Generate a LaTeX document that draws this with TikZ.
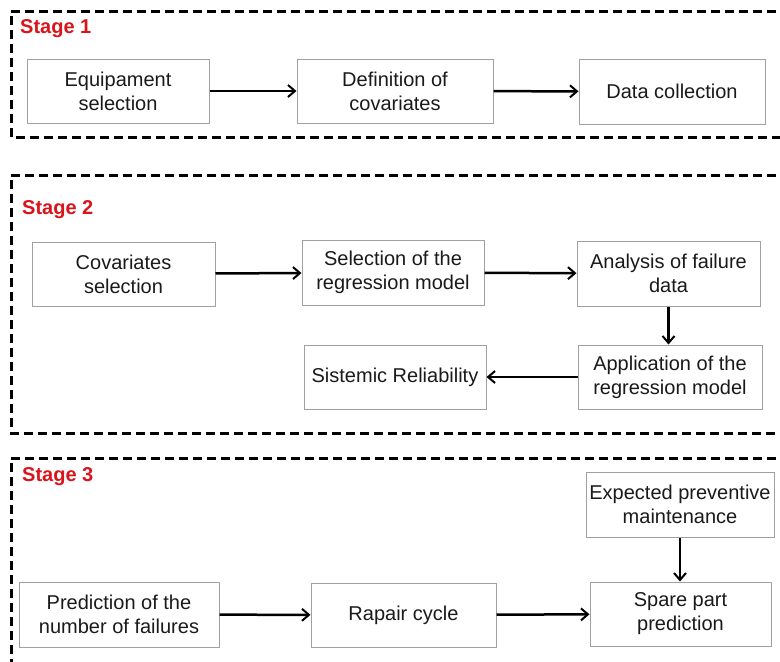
\documentclass[tikz,border=0pt]{standalone}
\usepackage{fontspec}
\setmainfont{Liberation Sans}
\usetikzlibrary{arrows.meta}
\definecolor{boxgray}{HTML}{A0A0A0}
\definecolor{txt}{HTML}{1A1A1A}
\definecolor{stagered}{HTML}{D9141A}
\begin{document}
\begin{tikzpicture}[x=1pt,y=-1pt,
  box/.style={draw=boxgray, line width=1pt, fill=white, align=center, text=txt,
    font=\fontsize{20pt}{24pt}\selectfont, inner sep=0pt},
  flow/.style={line width=2.5pt, -{Straight Barb[length=7pt,width=12pt,line width=2pt]}},
  frame/.style={line width=3pt, dash pattern=on 9pt off 5pt},
  stagelbl/.style={text=stagered, font=\fontsize{20pt}{24pt}\selectfont\bfseries, anchor=west, inner sep=0pt}]
\useasboundingbox (0,0) rectangle (780,662);
\fill[white] (0,0) rectangle (780,662);
% frames
\draw[frame] (790,11) -- (11,11) -- (11,137) -- (790,137);
\draw[frame] (790,175) -- (11,175) -- (11,433) -- (790,433);
\draw[frame] (790,458) -- (11,458) -- (11,680);
% stage labels
\node[stagelbl] (s1) at (20,29) {Stage 1};
\node[stagelbl] (s2) at (22,210) {Stage 2};
\node[stagelbl] (s3) at (22,477) {Stage 3};
% stage 1
\node[box, minimum width=182pt, minimum height=64pt] (equip) at (118,91) {Equipament\\selection};
\node[box, minimum width=196pt, minimum height=64pt] (def) at (395,91) {Definition of\\covariates};
\node[box, minimum width=186pt, minimum height=65pt] (data) at (672,91.5) {Data collection};
\draw[flow] (equip) -- (def);
\draw[flow] (def) -- (data);
% stage 2
\node[box, minimum width=183pt, minimum height=64pt] (cov) at (123.5,274) {Covariates\\selection};
\node[box, minimum width=182pt, minimum height=65pt] (sel) at (393,272.5) {Selection of the\\regression model};
\node[box, minimum width=183pt, minimum height=65pt] (ana) at (668.5,273.5) {Analysis of failure\\data};
\node[box, minimum width=184pt, minimum height=64pt] (app) at (670,377) {Application of the\\regression model};
\node[box, minimum width=182pt, minimum height=64pt] (sis) at (395,377) {Sistemic Reliability};
\draw[flow] (cov) -- (sel);
\draw[flow] (sel) -- (ana);
\draw[flow] (ana.south) -- (ana.south |- app.north);
\draw[flow] (app) -- (sis);
% stage 3
\node[box, minimum width=200pt, minimum height=65pt] (pred) at (119,614.5) {Prediction of the\\number of failures};
\node[box, minimum width=185pt, minimum height=64pt] (rap) at (403.5,615) {Rapair cycle};
\node[box, minimum width=188pt, minimum height=65pt] (exp) at (680,504.5) {Expected preventive\\maintenance};
\node[box, minimum width=181pt, minimum height=64pt] (spare) at (680.5,614) {Spare part\\prediction};
\draw[flow] (pred) -- (rap);
\draw[flow] (rap) -- (spare);
\draw[flow] (exp.south) -- (exp.south |- spare.north);
\end{tikzpicture}
\end{document}
